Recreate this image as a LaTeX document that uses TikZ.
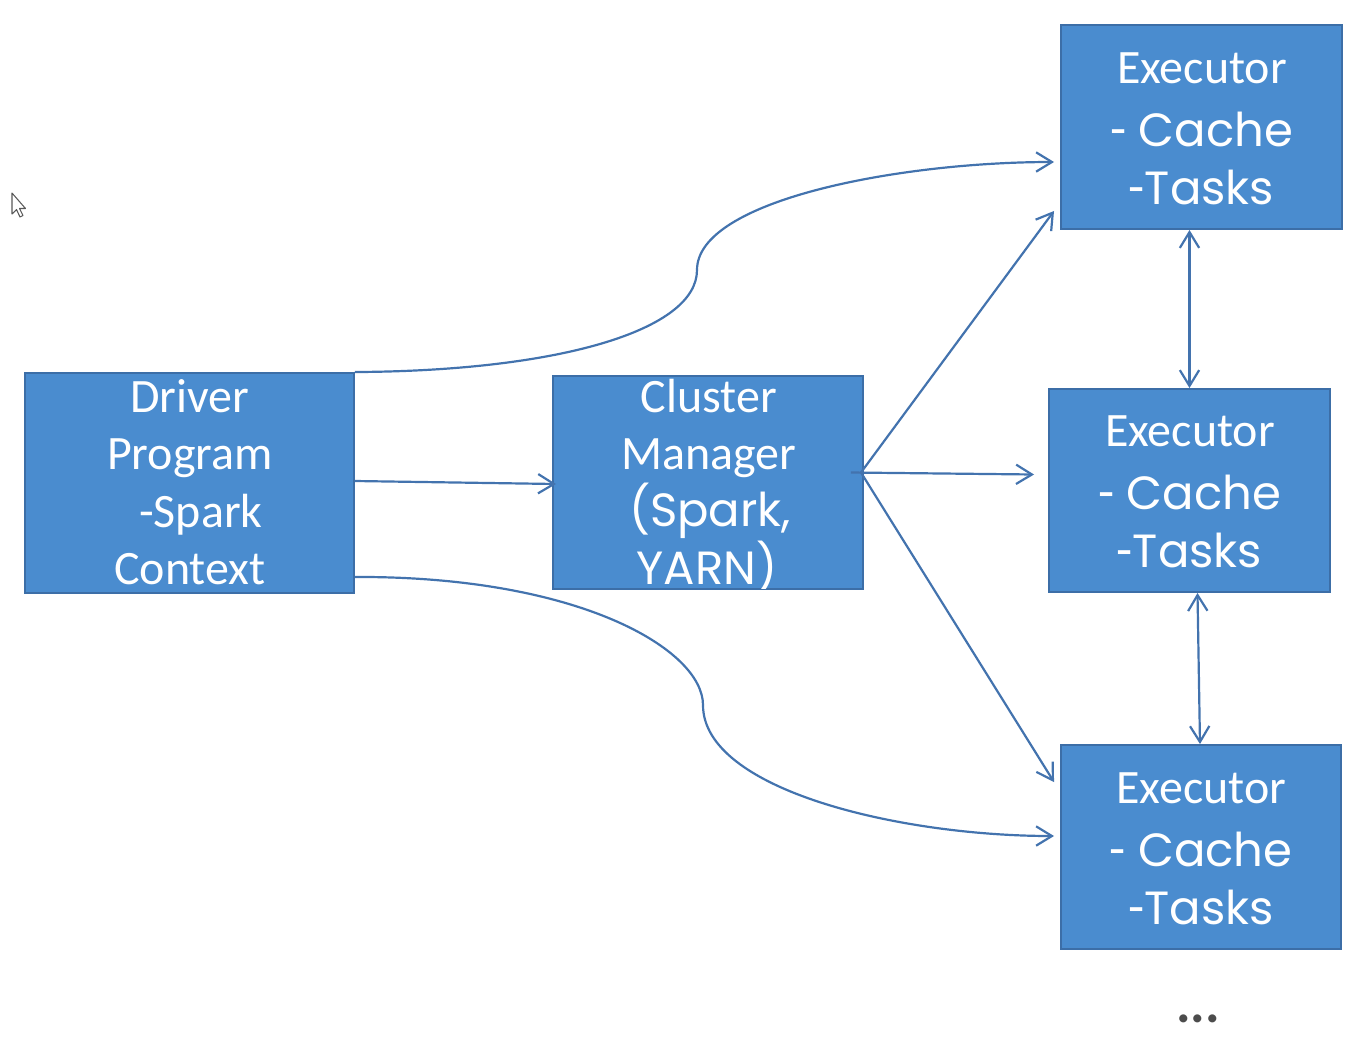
\documentclass[tikz,border=0pt]{standalone}
\usepackage{fontspec}
\setmainfont{Carlito}
\newfontfamily\geo{Poppins}
\newfontfamily\calf{Carlito}
\usetikzlibrary{arrows.meta,calc}
\definecolor{boxfill}{HTML}{4A8CCF}
\definecolor{boxedge}{HTML}{3C6EA7}
\definecolor{linec}{HTML}{4373AE}
\newcommand{\hy}{{\calf\fontsize{30}{32}\selectfont -}}
\begin{document}
\begin{tikzpicture}[x=0.02cm,y=-0.02cm,
  box/.style={draw=boxedge, fill=boxfill, line width=1.14pt, inner sep=0pt},
  cal/.style={text=white, inner sep=0pt, anchor=base, font=\fontsize{27.3}{30}\selectfont},
  geot/.style={text=white, inner sep=0pt, anchor=base, font=\geo\fontsize{26.5}{32}\selectfont},
  tipx/.tip={Straight Barb[length=9pt,width=11pt]},
  arr/.style={draw=linec, line width=1.25pt, -tipx},
  dbl/.style={draw=linec, line width=1.25pt, tipx-tipx}]
\useasboundingbox (0,0) rectangle (1360,1042);

% boxes
\node[box, minimum width=6.58cm, minimum height=4.4cm] (drv) at (189.5,483) {};
\node[box, minimum width=6.2cm, minimum height=4.26cm] (cm) at (708,482.5) {};
\node[box, minimum width=5.62cm, minimum height=4.08cm] (ex1) at (1201.5,127) {};
\node[box, minimum width=5.62cm, minimum height=4.06cm] (ex2) at (1189.5,490.5) {};
\node[box, minimum width=5.6cm, minimum height=4.08cm] (ex3) at (1201,847) {};

% driver text
\node[cal] (drv1) at ($(drv.center)+(0.5,-71)$) {Driver};
\node[cal] (drv2) at ($(drv.center)+(0.5,-14)$) {Program};
\node[cal] (drv3) at ($(drv.center)+(11.5,44)$) {-Spark};
\node[cal] (drv4) at ($(drv.center)+(0.5,101)$) {Context};

% cluster manager text
\node[cal] (cm1) at ($(cm.center)+(1,-70.5)$) {Cluster};
\node[cal] (cm2) at ($(cm.center)+(1,-13.5)$) {Manager};
\node[geot] (cm3) at ($(cm.center)+(2,44)$) {(Spark,};
\begin{scope}
  \clip ($(cm.south west)+(1,-1)$) rectangle ($(cm.north east)+(-1,1)$);
  \node[geot] (cm4) at ($(cm.center)+(-1,102)$) {YARN)};
\end{scope}

% executor texts
\foreach \e in {ex1,ex2,ex3}{
  \node[cal] (\e-a) at ($(\e.center)+(0.5,-44)$) {Executor};
  \node[geot] (\e-b) at ($(\e.center)+(0,19)$) {\hy{} Cache};
  \node[geot] (\e-c) at ($(\e.center)+(0,77)$) {\hy Tasks};
}

% connectors
\coordinate (c1end) at ($(ex1.west)+(-6,35)$);
\draw[arr] (drv.north east) .. controls (560,371) and (697,330) .. (697,270)
  .. controls (697,200) and (900,162) .. (c1end);
\coordinate (c3end) at ($(ex3.west)+(-6,-11)$);
\draw[arr] ($(drv.south east)+(0,-17)$) .. controls (580,576) and (703,650) .. (703,705)
  .. controls (703,790) and (900,836) .. (c3end);
\draw[arr] ($(drv.east)+(0,-2)$) -- ($(cm.west)+(4,1.5)$);

\coordinate (cmout) at ($(cm.east)+(-3,-10)$);
\draw[arr] (cmout) -- ($(ex1.south west)+(-6,-19)$);
\draw[arr] ($(cmout)+(-10,0)$) -- ($(ex2.west)+(-14,-16)$);
\draw[arr] (cmout) -- ($(ex3.north west)+(-6,38)$);

\draw[dbl] (ex2.north) -- (ex2.north |- ex1.south);
\draw[dbl] ($(ex2.south)+(8,0)$) -- ($(ex3.north)+(-1,0)$);

% ellipsis
\node[cal, text=black!70, font=\bfseries\fontsize{31}{32}\selectfont] (dots) at (1198,1022) {...};

% mouse cursor
\draw[gray!70!black, fill=white, line width=0.6pt, line join=round]
  (12,193) -- (12,214) -- (16.5,209.5) -- (20,217) -- (23,215.5) -- (19.5,208.5) -- (25.5,208.5) -- cycle;
\end{tikzpicture}
\end{document}
